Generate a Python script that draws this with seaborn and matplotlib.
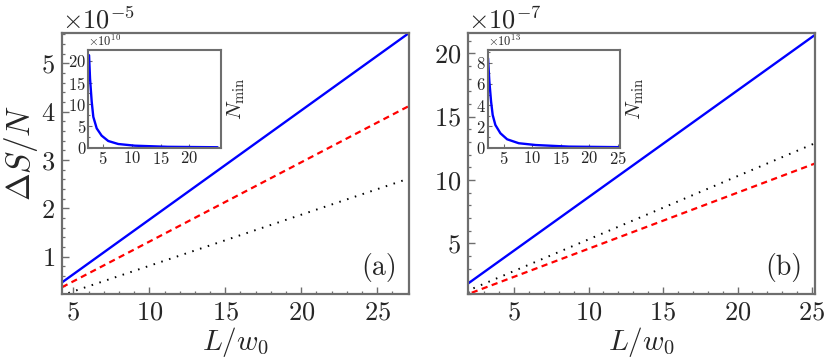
import numpy as np
import matplotlib
matplotlib.use("Agg")
import matplotlib.pyplot as plt
import seaborn as sns
from matplotlib.ticker import ScalarFormatter, MultipleLocator, FixedLocator

sns.set_style("white")
plt.rcParams.update({
    "font.family": "serif",
    "font.serif": ["cmr10", "DejaVu Serif"],
    "mathtext.fontset": "cm",
    "axes.formatter.use_mathtext": True,
    "axes.unicode_minus": True,
})

# panel (a): Delta S / N against L/w0 (line end points)
xa_blue = [4.25, 27.1]
ya_blue = [0.47e-5, 5.63e-5]
xa_red = [4.25, 27.1]
ya_red = [0.37e-5, 4.12e-5]
xa_black = [4.67, 27.1]
ya_black = [0.25e-5, 2.62e-5]

# panel (b)
xb_blue = [1.93, 25.2]
yb_blue = [1.84e-7, 21.45e-7]
xb_red = [2.16, 25.2]
yb_red = [1.1e-7, 11.3e-7]
xb_black = [2.27, 25.2]
yb_black = [1.45e-7, 12.9e-7]

# insets: N_min against L/w0
ia_x = [2.53, 2.70, 2.99, 3.27, 3.86, 4.72, 5.87, 7.6, 10.5, 16.2, 24.9]
ia_y = [21.3, 15.9, 10.6, 7.1, 4.45, 2.77, 1.54, 0.85, 0.46, 0.2, 0.1]
ib_x = [2.26, 2.49, 2.79, 3.07, 3.54, 4.42, 5.6, 7.63, 10.6, 16.4, 25.2]
ib_y = [8.43, 6.23, 4.34, 3.08, 2.14, 1.36, 0.79, 0.42, 0.25, 0.1, 0.05]
ia_xticks = [5, 10, 15, 20]
ib_xticks = [5, 10, 15, 20, 25]

GRAY = "#6e6e6e"


def style_axes(ax, lw=1.6):
    for s in ax.spines.values():
        s.set_color(GRAY)
        s.set_linewidth(lw)
        s.set_visible(True)
    ax.tick_params(which="both", direction="in", color=GRAY, left=True, bottom=True,
                   top=False, right=False)


def sci(ax, power, size):
    fmt = ScalarFormatter(useMathText=True)
    fmt.set_powerlimits((power, power))
    ax.yaxis.set_major_formatter(fmt)
    ax.yaxis.get_offset_text().set_fontsize(size)


fig = plt.figure(figsize=(8.3, 3.61), dpi=100)
ax_a = fig.add_axes([0.0747, 0.1856, 0.4181, 0.723])
ax_b = fig.add_axes([0.5642, 0.1856, 0.4177, 0.723])

for ax, lines, xlim, ylim, power in [
    (ax_a, [(xa_blue, ya_blue), (xa_red, ya_red), (xa_black, ya_black)], (4.25, 27.1), (0.23e-5, 5.63e-5), -5),
    (ax_b, [(xb_blue, yb_blue), (xb_red, yb_red), (xb_black, yb_black)], (1.93, 25.2), (1.0e-7, 21.6e-7), -7),
]:
    (bx, by), (rx, ry), (kx, ky) = lines
    sns.lineplot(x=bx, y=by, ax=ax, color="#0000ff", lw=1.7)
    sns.lineplot(x=rx, y=ry, ax=ax, color="#ff0000", lw=1.6, linestyle=(0, (2.8, 2.0)))
    sns.lineplot(x=kx, y=ky, ax=ax, color="black", lw=1.4, linestyle=(0, (0.8, 3.4)))
    ax.set_xlim(*xlim)
    ax.set_ylim(*ylim)
    style_axes(ax)
    sci(ax, power, 19)
    ax.xaxis.set_major_locator(MultipleLocator(5))
    ax.xaxis.set_minor_locator(MultipleLocator(1))
    ax.tick_params(which="major", length=5, width=1.0, labelsize=19, pad=5)
    ax.tick_params(which="minor", length=2.5, width=0.9)
    ax.set_xlabel("$L/w_0$", fontsize=21, labelpad=0)

ax_a.yaxis.set_major_locator(MultipleLocator(1e-5))
ax_a.yaxis.set_minor_locator(MultipleLocator(0.2e-5))
ax_b.yaxis.set_major_locator(MultipleLocator(5e-7))
ax_b.yaxis.set_minor_locator(MultipleLocator(1e-7))
ax_a.set_ylabel(r"$\Delta S/N$", fontsize=24)
ax_a.yaxis.set_label_coords(-0.062, 0.54)

ax_a.text(0.965, 0.045, "(a)", transform=ax_a.transAxes, ha="right", va="bottom", fontsize=20)
ax_b.text(0.965, 0.045, "(b)", transform=ax_b.transAxes, ha="right", va="bottom", fontsize=20)

# insets
in_a = fig.add_axes([0.1064, 0.5909, 0.1599, 0.2706])
in_b = fig.add_axes([0.5876, 0.5909, 0.1594, 0.2706])
for ax, xs, ys, scale, power, xlim, ylim, ystep, xt in [
    (in_a, ia_x, ia_y, 1e10, 10, (2.4, 25.5), (0, 22.5e10), 5e10, ia_xticks),
    (in_b, ib_x, ib_y, 1e13, 13, (2.2, 25.35), (0, 9.2e13), 2e13, ib_xticks),
]:
    sns.lineplot(x=xs, y=np.array(ys) * scale, ax=ax, color="#0000ff", lw=1.7)
    ax.set_xlim(*xlim)
    ax.set_ylim(*ylim)
    style_axes(ax, lw=1.5)
    sci(ax, power, 9)
    ax.xaxis.set_major_locator(FixedLocator(xt))
    ax.yaxis.set_major_locator(MultipleLocator(ystep))
    ax.yaxis.set_minor_locator(MultipleLocator(ystep / 2))
    ax.tick_params(which="major", length=3, width=0.8, labelsize=12, pad=1.5)
    ax.tick_params(which="minor", length=1.5, width=0.8)
    ax.yaxis.set_label_position("right")
    ax.set_ylabel(r"$N_{\rm min}$", fontsize=15, labelpad=3)
    ax.set_facecolor("white")

fig.savefig("out.png", dpi=100)
